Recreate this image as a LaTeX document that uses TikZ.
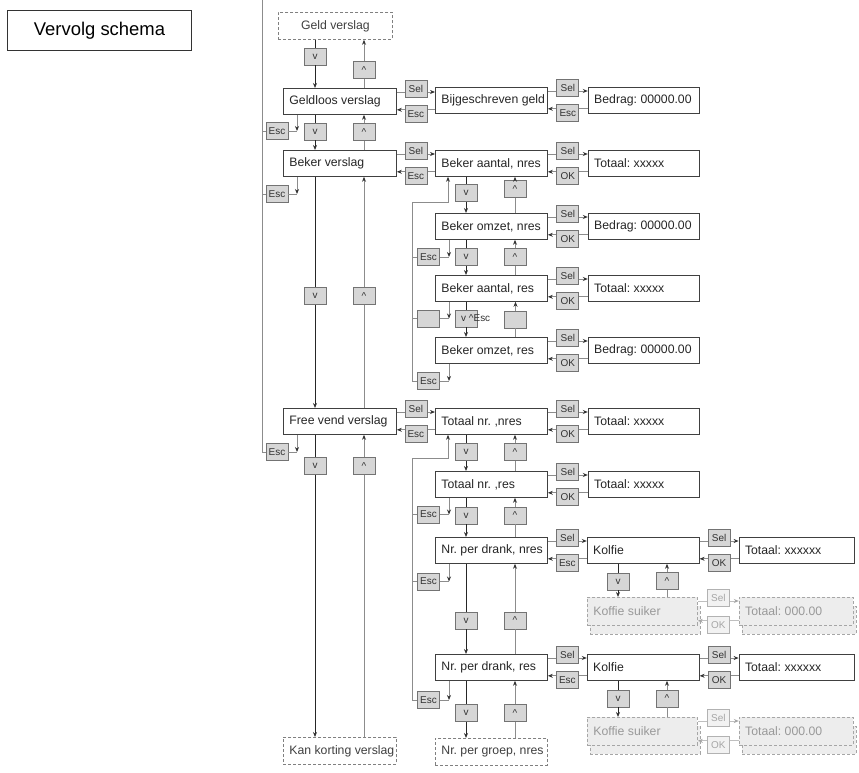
\documentclass[tikz,border=0pt]{standalone}
\usepackage{fontspec}
\setmainfont{Liberation Sans}
\frenchspacing
\usetikzlibrary{positioning,arrows.meta,shadows}
\tikzset{>={Stealth[length=5bp,width=4bp,color=black!80]}}

\begin{document}
\begin{tikzpicture}[
    x=1bp, y=-1bp,
    menu/.style={draw=black!75, fill=white, line width=0.8bp, anchor=north west,
      minimum height=26bp, inner xsep=6bp, text=black!85,
      font=\fontsize{12.3}{14}\selectfont,
      execute at begin node={\hbox to #1\bgroup}, execute at end node={\hss\egroup}},
    menu/.default=100bp,
    extmenu/.style={menu=#1, dash pattern=on 3bp off 2bp, draw=black!50,
      text=black!75, minimum height=27bp},
    extmenu/.default=100bp,
    ghost/.style={menu=#1, dash pattern=on 3bp off 2bp, draw=black!35, fill=black!7,
      text=black!40, minimum height=28bp,
      copy shadow={shadow xshift=3bp, shadow yshift=-9bp}},
    ghost/.default=100bp,
    key/.style={draw=black!55, fill=black!16, line width=0.7bp, minimum width=22bp,
      minimum height=17bp, inner sep=0pt, text=black!80,
      font=\fontsize{10}{12}\selectfont},
    ghostkey/.style={key, draw=black!30, fill=black!5, text=black!35},
    link/.style={draw=black!45, line width=0.8bp},
    ghostlink/.style={draw=black!25, line width=0.8bp,
      >={Stealth[length=5bp,width=4bp,color=black!35]}},
    down/.style={draw=black!85, line width=0.8bp}
]
\useasboundingbox (0,0) rectangle (859,773);

\node[draw=black!80, line width=1bp, anchor=north west, minimum width=184bp,
  minimum height=40bp, font=\fontsize{18.5}{22}\selectfont] (title) at (7,10) {Vervolg schema};

% hoofdmenu
\node[extmenu=102bp] (gd) at (278,12) {\hss Geld verslag};
\node[menu=101bp] (gl) at (283,88) {Geldloos verslag};
\node[menu=101bp] (bk) at (283,150) {Beker verslag};
\node[menu=101bp] (fv) at (283,408) {Free vend verslag};
\node[extmenu=101bp] (kk) at (283,737) {Kan korting verslag};

% submenus
\node[menu] (bg) at (435,87) {Bijgeschreven geld};
\node[menu] (ba1) at (435,150) {Beker aantal, nres};
\node[menu] (bo1) at (435,213) {Beker omzet, nres};
\node[menu] (ba2) at (435,275) {Beker aantal, res};
\node[menu] (bo2) at (435,337) {Beker omzet, res};
\node[menu] (tn1) at (435,408) {Totaal nr. ,nres};
\node[menu] (tn2) at (435,471) {Totaal nr. ,res};
\node[menu] (nd1) at (435,537) {Nr. per drank, nres};
\node[menu] (nd2) at (435,654) {Nr. per drank, res};
\node[extmenu] (ng) at (435,738) {Nr. per groep, nres};

% waarden
\node[menu=99bp, right=40bp of bg] (bd1) {Bedrag: 00000.00};
\node[menu=99bp, right=40bp of ba1] (tt1) {Totaal: xxxxx};
\node[menu=99bp, right=40bp of bo1] (bd2) {Bedrag: 00000.00};
\node[menu=99bp, right=40bp of ba2] (tt2) {Totaal: xxxxx};
\node[menu=99bp, right=40bp of bo2] (bd3) {Bedrag: 00000.00};
\node[menu=99bp, right=40bp of tn1] (tt3) {Totaal: xxxxx};
\node[menu=99bp, right=40bp of tn2] (tt4) {Totaal: xxxxx};
\node[menu=100bp, right=39bp of nd1] (kf1) {Kolfie};
\node[menu=100bp, right=39bp of nd2] (kf2) {Kolfie};
\node[menu=103bp, right=39bp of kf1] (tx1) {Totaal: xxxxxx};
\node[menu=103bp, right=39bp of kf2] (tx2) {Totaal: xxxxxx};
\node[ghost=98bp] (ks1) at (587,597) {Koffie suiker};
\node[ghost=98bp] (ks2) at (587,717) {Koffie suiker};
\node[ghost=102bp, right=41bp of ks1] (tz1) {Totaal: 000.00};
\node[ghost=102bp, right=41bp of ks2] (tz2) {Totaal: 000.00};

% Sel / Esc / OK
\foreach \a/\b/\ku/\kl in {gl/bg/Sel/Esc, bg/bd1/Sel/Esc, bk/ba1/Sel/Esc,
    ba1/tt1/Sel/OK, bo1/bd2/Sel/OK, ba2/tt2/Sel/OK, bo2/bd3/Sel/OK,
    fv/tn1/Sel/Esc, tn1/tt3/Sel/OK, tn2/tt4/Sel/OK, nd1/kf1/Sel/Esc,
    kf1/tx1/Sel/OK, nd2/kf2/Sel/Esc, kf2/tx2/Sel/OK}{
  \coordinate (p) at ([yshift=-4bp]\a.north east);
  \coordinate (q) at ([yshift=5bp]\a.south east);
  \draw[link,->] (p) -- (p -| \b.west) node[key, midway, yshift=3bp] (sel\a) {\ku};
  \draw[link,->] (q -| \b.west) -- (q) node[key, midway, yshift=-4bp] (ok\a) {\kl};
}
\foreach \a/\b in {ks1/tz1, ks2/tz2}{
  \coordinate (p) at ([yshift=-4bp]\a.north east);
  \coordinate (q) at ([yshift=5bp]\a.south east);
  \draw[ghostlink,->] (p) -- (p -| \b.west) node[ghostkey, midway, yshift=3bp] (sel\a) {Sel};
  \draw[ghostlink,->] (q -| \b.west) -- (q) node[ghostkey, midway, yshift=-4bp] (ok\a) {OK};
}

% v / ^
\foreach \a/\b/\xd/\yd/\xu/\yu in {gd/gl/315/56.5/364/70, gl/bk/315/131.5/364/132,
    bk/fv/315/296/364/296, fv/kk/315/466/364/466, ba1/bo1/466/193/515/189,
    bo1/ba2/466/257/515/257, tn1/tn2/466/452/515/452, tn2/nd1/466/515.5/515/515.5,
    nd1/nd2/466/620.5/515/620.5, nd2/ng/466/713/515/713,
    kf1/ks1/618/581.5/667/581, kf2/ks2/618/698.5/667/698.5}{
  \node[key] (v\a) at (\xd,\yd) {v};
  \node[key] (u\a) at (\xu,\yu) {\textasciicircum};
  \draw[down,->] (\a.south -| v\a) -- (v\a) -- (v\a |- \b.north);
  \draw[link,->] (u\a |- \b.north) -- (u\a) -- (u\a |- \a.south);
}
\node[key] (vba2) at (466,318.5) {};
\node[key] (uba2) at (515.5,319.5) {};
\node[anchor=west, inner sep=0pt, text=black!80, font=\fontsize{10}{12}\selectfont]
  (vesc) at (461,318.5) {v \textasciicircum Esc};
\draw[down,->] (ba2.south -| vba2) -- (vba2) -- (vba2 |- bo2.north);
\draw[link,->] (uba2 |- bo2.north) -- (uba2) -- (uba2 |- ba2.south);

% terug met Esc
\coordinate (back0) at (262,0);
\coordinate (back1) at (412,202);
\coordinate (back2) at (412,458);
\foreach \a/\x/\y/\t/\rail in {gl/277/131/Esc/back0, bk/277/194/Esc/back0,
    fv/277/452/Esc/back0, bo1/428.5/257/Esc/back1, ba2/428.5/318.5/{}/back1,
    bo2/428.5/381/Esc/back1, tn2/428.5/514.5/Esc/back2,
    nd1/428.5/581.5/Esc/back2, nd2/428.5/700/Esc/back2}{
  \node[key] (esc\a) at (\x,\y) {\t};
  \coordinate (c) at ([xshift=14bp]\a.south west);
  \draw[link,->] (c) -- (c |- esc\a);
  \draw[link] (esc\a) -- (c |- esc\a);
  \draw[link] (esc\a) -- (esc\a -| \rail);
}
\draw[link] (back0) -- (back0 |- escfv);
\draw[link,->] (back1 |- escbo2) -- (back1) -| ([xshift=13bp]ba1.south west);
\draw[link,->] (back2 |- escnd2) -- (back2) -| ([xshift=13bp]tn1.south west);
\end{tikzpicture}
\end{document}
